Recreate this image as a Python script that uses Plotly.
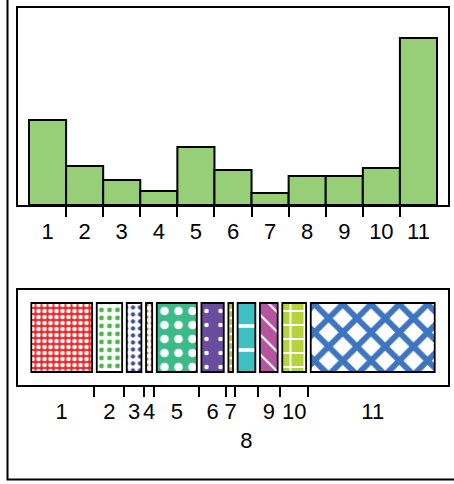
import plotly.graph_objects as go
from itertools import accumulate

# ---- data ----
categories = ["1", "2", "3", "4", "5", "6", "7", "8", "9", "10", "11"]
values = [85, 39, 25, 14, 58, 35, 12, 29, 29, 37, 167]

# ---- styles ----
bar_color = "#97CE78"
cell_bg = ["#F0282A", "#FFFFFF", "#FFFFFF", "#FFFFFF", "#3DBA89", "#6A4C9C",
           "#C8C630", "#3EBFC0", "#B5549F", "#B5D33A", "#FFFFFF"]
cell_fg = ["#FFFFFF", "#4DB848", "#3D4C9E", "#D45A1E", "#FFFFFF", "#FFFFFF",
           "#FFFFFF", "#FFFFFF", "#FFFFFF", "#FFFFFF", "#3E75C0"]
cell_shape = [".", ".", ".", ".", ".", ".", "-", "-", "\\", "+", "x"]
cell_size = [6, 8, 7, 6, 14, 14, 8, 24, 14, 14, 20]
cell_solid = [0.45, 0.3, 0.3, 0.3, 0.3, 0.08, 0.3, 0.15, 0.15, 0.25, 0.5]
stagger = [False] * 7 + [True] + [False] * 3

W, H = 454, 484
FONT = dict(family="Liberation Sans, Arial, sans-serif", size=22, color="black")

n = len(values)
xs = list(range(1, n + 1))
total = sum(values)
cum = list(accumulate(values))
centers = [c - v / 2 for c, v in zip(cum, values)]
gap = total * 0.0113

xdom = [17.5 / W, 447.5 / W]
top_dom = [(H - 205) / H, (H - 8) / H]
bot_dom = [(H - 385) / H, (H - 290) / H]
top_range = [0.5 - 0.31, n + 0.5 + 0.283]
bot_range = [-total * 0.0282, total * 1.0257]

fig = go.Figure()

# top histogram-like bars
fig.add_trace(go.Bar(
    x=xs, y=values, width=1,
    marker=dict(color=bar_color, line=dict(color="black", width=2)),
    xaxis="x", yaxis="y", showlegend=False, hoverinfo="skip"))

# helper empty traces for tick axes
fig.add_trace(go.Scatter(x=[None], y=[None], xaxis="x3", yaxis="y",
                         showlegend=False, hoverinfo="skip"))

# bottom patterned cells
for i in range(n):
    fig.add_trace(go.Bar(
        x=[centers[i]], y=[1], base=0, width=[values[i] - gap],
        marker=dict(color=cell_bg[i],
                    line=dict(color="black", width=1.8),
                    pattern=dict(shape=cell_shape[i], fgcolor=cell_fg[i],
                                 bgcolor=cell_bg[i], size=cell_size[i],
                                 solidity=cell_solid[i], fillmode="replace")),
        xaxis="x2", yaxis="y2", showlegend=False, hoverinfo="skip"))

fig.add_trace(go.Scatter(x=[None], y=[None], xaxis="x4", yaxis="y2",
                         showlegend=False, hoverinfo="skip"))

bot_text = [("<br>" + c) if s else c for c, s in zip(categories, stagger)]

common_frame = dict(showline=True, linecolor="black", linewidth=2, mirror=True,
                    showgrid=False, zeroline=False)

fig.update_layout(
    width=W, height=H,
    margin=dict(l=0, r=0, t=0, b=0),
    paper_bgcolor="white", plot_bgcolor="white",
    barmode="overlay",
    xaxis=dict(domain=xdom, range=top_range, anchor="y",
               tickmode="array", tickvals=xs, ticktext=categories,
               ticks="outside", ticklen=6, tickcolor="rgba(0,0,0,0)",
               tickfont=FONT, **common_frame),
    xaxis3=dict(domain=xdom, range=top_range, anchor="y", overlaying="x",
                side="bottom", tickmode="array",
                tickvals=[x + 0.5 for x in xs[:-1]],
                ticks="outside", ticklen=11, tickwidth=2, tickcolor="black",
                showticklabels=False, showgrid=False, zeroline=False,
                showline=False),
    yaxis=dict(domain=top_dom, range=[0, max(values) * 1.18], anchor="x",
               showticklabels=False, ticks="", **common_frame),
    xaxis2=dict(domain=xdom, range=bot_range, anchor="y2",
                tickmode="array", tickvals=centers, ticktext=bot_text,
                ticks="outside", ticklen=6, tickcolor="rgba(0,0,0,0)",
                tickfont=FONT, **common_frame),
    xaxis4=dict(domain=xdom, range=bot_range, anchor="y2", overlaying="x2",
                side="bottom", tickmode="array", tickvals=cum[:-1],
                ticks="outside", ticklen=11, tickwidth=2, tickcolor="black",
                showticklabels=False, showgrid=False, zeroline=False,
                showline=False),
    yaxis2=dict(domain=bot_dom, range=[-0.188, 1.188], anchor="x2",
                showticklabels=False, ticks="", **common_frame),
    shapes=[dict(type="rect", xref="paper", yref="paper",
                 x0=7.5 / W, x1=1.2, y0=(H - 479.5) / H, y1=1.2,
                 line=dict(color="black", width=2), fillcolor="rgba(0,0,0,0)",
                 layer="below")],
)

fig.write_html("out.html", config={"displayModeBar": False},
               post_script="document.body.style.margin='0px';")
